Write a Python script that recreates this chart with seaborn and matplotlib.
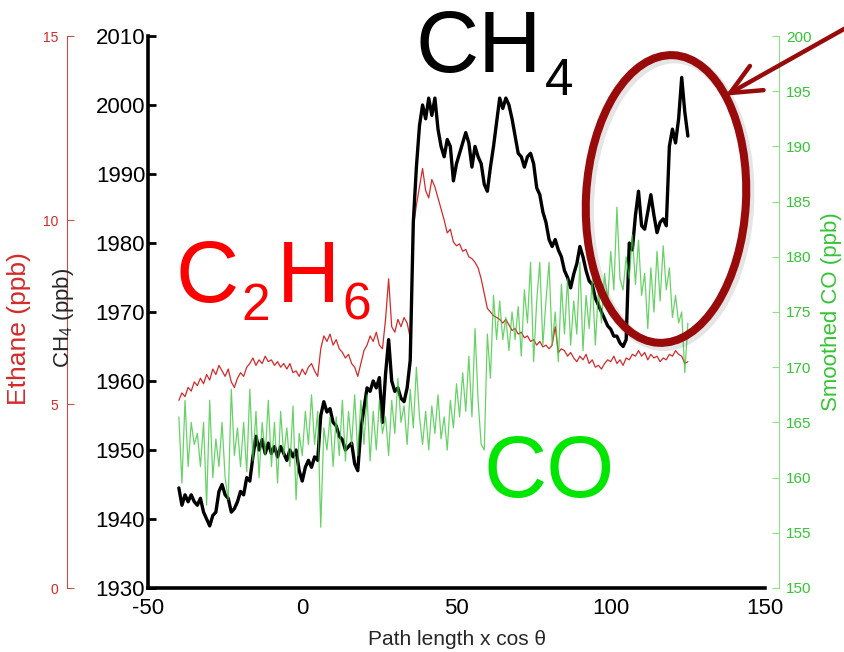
import numpy as np
import pandas as pd
import matplotlib
matplotlib.use("Agg")
import matplotlib.pyplot as plt
import seaborn as sns
from matplotlib.patches import Ellipse, FancyArrowPatch
from matplotlib.transforms import IdentityTransform

# Path length x cos(theta), one sample per unit
path = np.arange(-40, 126)

# Methane (ppb)
ch4 = [
    1944.5, 1942, 1943.5, 1942.5, 1943.5, 1942.5, 1942, 1943, 1941, 1940,
    1939, 1940.5, 1941, 1944, 1945, 1943.5, 1943, 1941, 1941.5, 1942.5,
    1944, 1943.5, 1946, 1945.5, 1949, 1952, 1950, 1951.5, 1949.5, 1951,
    1949.5, 1950.5, 1949, 1950.5, 1949.5, 1948.5, 1950, 1949, 1950, 1947,
    1945.5, 1947.5, 1948.5, 1947.5, 1949, 1948.5, 1955, 1957, 1955.5, 1956,
    1954, 1953.5, 1952, 1951.5, 1950, 1950.5, 1951, 1948, 1947, 1953,
    1956, 1959, 1958.5, 1960, 1959, 1960.5, 1954, 1961, 1966, 1960,
    1958.5, 1959, 1957.5, 1957, 1959, 1963, 1983, 1991, 1997, 2000,
    1998, 2001, 1998.5, 2001, 1996.5, 1994, 1992.5, 1995, 1994, 1989,
    1991.5, 1993, 1994.5, 1996, 1994.5, 1991, 1994, 1992.5, 1991.5, 1988.5,
    1987.5, 1991, 1994, 1997.5, 2001, 1999.5, 2001, 2000, 1998, 1995.5,
    1993, 1992.5, 1991, 1992.5, 1993, 1991.5, 1988, 1987, 1984.5, 1983,
    1980.5, 1979.5, 1980.5, 1979, 1978, 1976, 1975, 1973.5, 1975.5, 1977,
    1979.5, 1978, 1976, 1974.5, 1974, 1972, 1971, 1970, 1969, 1968,
    1967.5, 1966.5, 1966.5, 1965.5, 1965, 1966, 1980, 1979, 1984, 1987.5,
    1982.5, 1982, 1984.5, 1987, 1984, 1981.5, 1983, 1983.5, 1982.5, 1994,
    1996.5, 1994.5, 1998, 2004, 1999, 1995.5,
]

# Ethane (ppb)
ethane = [
    5.1, 5.3, 5.2, 5.45, 5.35, 5.6, 5.5, 5.7, 5.55, 5.8,
    5.65, 5.95, 5.8, 6.05, 5.9, 5.75, 5.95, 5.6, 5.45, 5.7,
    5.85, 5.75, 6.0, 6.1, 6.25, 6.05, 6.2, 6.1, 6.3, 6.15,
    6.2, 6.05, 6.15, 6.0, 6.1, 5.95, 6.1, 5.85, 5.9, 5.75,
    5.95, 5.8, 6.0, 6.1, 5.9, 5.75, 6.5, 6.85, 6.7, 6.9,
    6.6, 6.75, 6.5, 6.4, 6.25, 6.35, 6.1, 6.0, 5.75, 6.1,
    6.45, 6.6, 6.85, 6.7, 6.95, 6.6, 6.5, 7.3, 8.4, 7.1,
    6.95, 7.3, 7.1, 7.35, 7.2, 6.8, 9.8, 10.4, 10.9, 11.4,
    10.8, 10.6, 11.1, 10.9, 10.6, 10.3, 10.0, 9.65, 9.75, 9.4,
    9.3, 9.35, 9.15, 9.2, 9.0, 8.95, 8.85, 8.7, 8.4, 8.0,
    7.6, 7.5, 7.4, 7.35, 7.3, 7.2, 7.3, 7.15, 7.0, 7.05,
    6.9, 6.95, 6.8, 6.85, 6.7, 6.75, 6.6, 6.7, 6.55, 6.6,
    6.5, 6.6, 7.1, 6.4, 6.5, 6.45, 6.3, 6.4, 6.25, 6.15,
    6.3, 6.2, 6.35, 6.1, 6.2, 6.0, 6.05, 5.95, 6.1, 6.2,
    6.15, 6.3, 6.1, 6.2, 6.05, 6.25, 6.2, 6.35, 6.3, 6.45,
    6.3, 6.4, 6.2, 6.35, 6.25, 6.3, 6.15, 6.25, 6.2, 6.35,
    6.3, 6.45, 6.35, 6.3, 6.1, 6.15,
]

# Smoothed carbon monoxide (ppb)
co = [
    165.5, 159.5, 167, 161, 165, 163, 164, 161, 165, 157.5,
    167, 160, 163.5, 161, 165, 160, 158, 168, 162, 164.5,
    161, 165, 160.5, 168, 161.5, 166, 160, 165, 162, 167,
    161, 165, 159.5, 166, 162, 164.5, 161, 166.5, 158, 164,
    162, 166, 163, 167.5, 163, 166, 155.5, 164.5, 162.5, 165.5,
    161, 165.5, 162, 167, 161.5, 166, 163, 167.5, 162, 167,
    163, 167.5, 161.5, 166, 162.5, 167, 164, 165.5, 162, 167,
    164, 169, 165, 166.5, 163, 168, 164.5, 170, 165.5, 163,
    166, 162.5, 166.5, 164, 167.5, 163.5, 165.5, 162.5, 167, 164.5,
    168.5, 165.5, 169.5, 166, 171, 165.5, 173.5, 167, 163, 162.5,
    173, 169, 176.5, 172.5, 176, 172.5, 174.5, 171.5, 175, 172.5,
    175.5, 171, 177, 174, 179.5, 170.5, 176, 179.5, 172, 176,
    179.5, 172, 175, 170.5, 177.5, 173, 178, 172, 176, 173,
    179.5, 171.5, 176.5, 173.5, 178, 172, 177, 174, 178.5, 176,
    180.5, 177, 184.5, 178, 177, 180, 178, 182, 177.5, 181.5,
    176.5, 178.5, 173.5, 179, 175, 180.5, 176, 181, 177, 179,
    174.5, 176.5, 174, 175, 169.5, 174,
]

x_ticks = [-50, 0, 50, 100, 150]
ethane_ticks = [0, 5, 10, 15]
ch4_ticks = list(range(1930, 2011, 10))
co_ticks = list(range(150, 201, 5))

sns.set_style("white")
plt.rcParams["font.family"] = ["Liberation Sans", "DejaVu Sans"]
plt.rcParams["mathtext.fontset"] = "custom"
plt.rcParams["mathtext.rm"] = "Liberation Sans"
plt.rcParams["mathtext.it"] = "Liberation Sans:italic"
plt.rcParams["mathtext.bf"] = "Liberation Sans:bold"
plt.rcParams["axes.unicode_minus"] = False

df = pd.DataFrame({"path": path, "ch4": ch4, "ethane": ethane, "co": co})

RED = "#d42a2a"
RED_AX = "#cc4a4a"
GREEN = "#35c435"
GREEN_AX = "#8ede8e"
MAROON = "#990b0b"

W, H = 844, 652
fig = plt.figure(figsize=(W / 100, H / 100), dpi=100)
left, right, top, bottom = 148, 765, 36, 588
ax_e = fig.add_axes([left / W, 1 - bottom / H, (right - left) / W, (bottom - top) / H])
ax_c = ax_e.twinx()
ax_o = ax_e.twinx()

# --- ethane (outer left axis) ---
sns.lineplot(data=df, x="path", y="ethane", ax=ax_e, color=RED, lw=0.9)
ax_e.set_xlim(-50, 150)
ax_e.set_ylim(0, 15)
ax_e.set_xticks(x_ticks)
ax_e.set_yticks(ethane_ticks)
for s in ("top", "right"):
    ax_e.spines[s].set_visible(False)
ax_e.spines["left"].set_position(("outward", 81 * 0.72))
ax_e.spines["left"].set_color(RED_AX)
ax_e.spines["left"].set_linewidth(0.8)
ax_e.spines["bottom"].set_color("black")
ax_e.spines["bottom"].set_linewidth(2.6)
ax_e.tick_params(axis="y", direction="in", colors=RED_AX, labelcolor=RED,
                 labelsize=10, length=5, width=0.8, pad=6)
ax_e.tick_params(axis="x", direction="in", colors="black", labelsize=16,
                 length=5, width=2, pad=7.5)
ax_e.set_xlabel("Path length x cos θ", fontsize=15, labelpad=7.5)
ax_e.set_ylabel("Ethane (ppb)", color=RED, fontsize=19)
ax_e.yaxis.set_label_coords(-0.19, 0.47)

# --- methane (main left axis) ---
sns.lineplot(data=df, x="path", y="ch4", ax=ax_c, color="black", lw=2.4)
ax_c.set_ylim(1930, 2010)
ax_c.set_yticks(ch4_ticks)
ax_c.yaxis.tick_left()
ax_c.yaxis.set_label_position("left")
for s in ("top", "right", "bottom"):
    ax_c.spines[s].set_visible(False)
ax_c.spines["left"].set_color("black")
ax_c.spines["left"].set_linewidth(2.6)
ax_c.tick_params(axis="y", direction="in", colors="black", labelsize=16,
                 length=6, width=2, pad=2)
ax_c.set_xlabel("")
ax_c.set_ylabel("CH$_4$ (ppb)", fontsize=16)
ax_c.yaxis.set_label_coords(-0.117, 0.49)

# --- carbon monoxide (right axis) ---
sns.lineplot(data=df, x="path", y="co", ax=ax_o, color=GREEN, lw=0.9, alpha=0.75)
ax_o.set_ylim(150, 200)
ax_o.set_yticks(co_ticks)
for s in ("top", "left", "bottom"):
    ax_o.spines[s].set_visible(False)
ax_o.spines["right"].set_position(("outward", 14 * 0.72))
ax_o.spines["right"].set_color(GREEN_AX)
ax_o.spines["right"].set_linewidth(0.8)
ax_o.tick_params(axis="y", direction="in", colors=GREEN_AX, labelcolor=GREEN,
                 labelsize=11, length=5, width=0.8, pad=5)
ax_o.set_xlabel("")
ax_o.set_ylabel("Smoothed CO (ppb)", color=GREEN, fontsize=16)
ax_o.yaxis.set_label_coords(1.09, 0.5)

# --- species annotations, built from main text plus lowered subscripts ---
renderer = fig.canvas.get_renderer()


def formula(parts, x, baseline, color, size=63, sub_size=37, drop=20):
    y = H - baseline
    for s, is_sub in parts:
        t = fig.text(x, y - (drop if is_sub else 0), s,
                     fontsize=sub_size if is_sub else size, color=color,
                     ha="left", va="baseline", transform=IdentityTransform())
        x = t.get_window_extent(renderer).x1 + (7 if is_sub else 2)


formula([("CH", False), ("4", True)], 416, 72, "black", drop=23)
formula([("C", False), ("2", True), ("H", False), ("6", True)], 176, 302, "#ff0000",
        drop=18)
formula([("CO", False)], 484, 497, "#00e600")

# highlight of the late methane rise
fig.add_artist(Ellipse((669, H - 202), 160, 288, angle=-3, fill=False,
                       edgecolor="#000000", alpha=0.1, linewidth=7.5,
                       transform=IdentityTransform(), zorder=9))
fig.add_artist(Ellipse((666, H - 199), 160, 288, angle=-3, fill=False,
                       edgecolor=MAROON, linewidth=5.8,
                       transform=IdentityTransform(), zorder=10))
fig.add_artist(FancyArrowPatch(
    (860, H - 20), (723, H - 97), transform=IdentityTransform(),
    arrowstyle="->,head_length=22,head_width=10", color=MAROON,
    linewidth=3.2, mutation_scale=1, zorder=10))

fig.savefig("out.png", dpi=100, facecolor="white")
